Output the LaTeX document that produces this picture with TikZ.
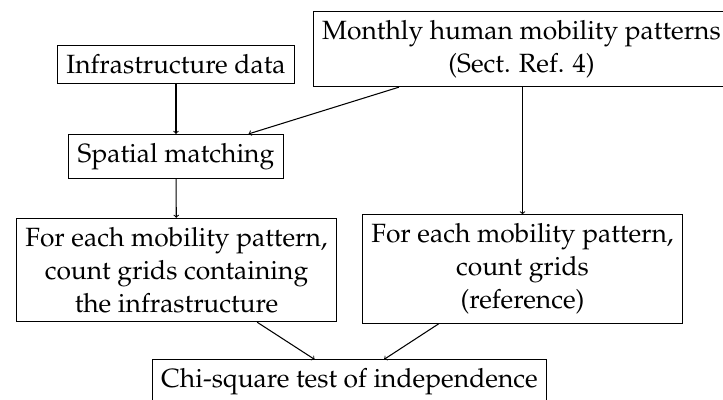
\documentclass[tikz,border=0pt]{standalone}
\usepackage[T1]{fontenc}
\usepackage{mathpazo}
\begin{document}
\begin{tikzpicture}[x=1pt,y=-1pt,
  every node/.style={font=\fontsize{26.4}{33}\selectfont},
  box/.style={draw, line width=1.05pt, align=center, inner sep=8.8pt},
  conn/.style={->, line width=1.05pt}]
\path[use as bounding box, clip] (0,0) rectangle (723,399);
\node[box] (infra) at (176,64.5) {Infrastructure data};
\node[box] (monthly) at (521.5,49) {Monthly human mobility patterns\\(Sect. Ref. 4)};
\node[box] (spatial) at (176,156.5) {Spatial matching};
\node[box] (left) at (176.5,270) {For each mobility pattern,\\count grids containing\\the infrastructure};
\node[box] (right) at (522.5,269) {For each mobility pattern,\\count grids\\(reference)};
\node[box] (chi) at (349.5,382) {Chi-square test of independence};
\draw[conn] (infra) -- (spatial);
\draw[conn] (monthly) -- (spatial);
\draw[conn] (monthly.south -| right.north) -- (right.north);
\draw[conn] (spatial) -- (left);
\draw[conn] (left) -- (chi);
\draw[conn] (right) -- (chi);
\end{tikzpicture}
\end{document}
